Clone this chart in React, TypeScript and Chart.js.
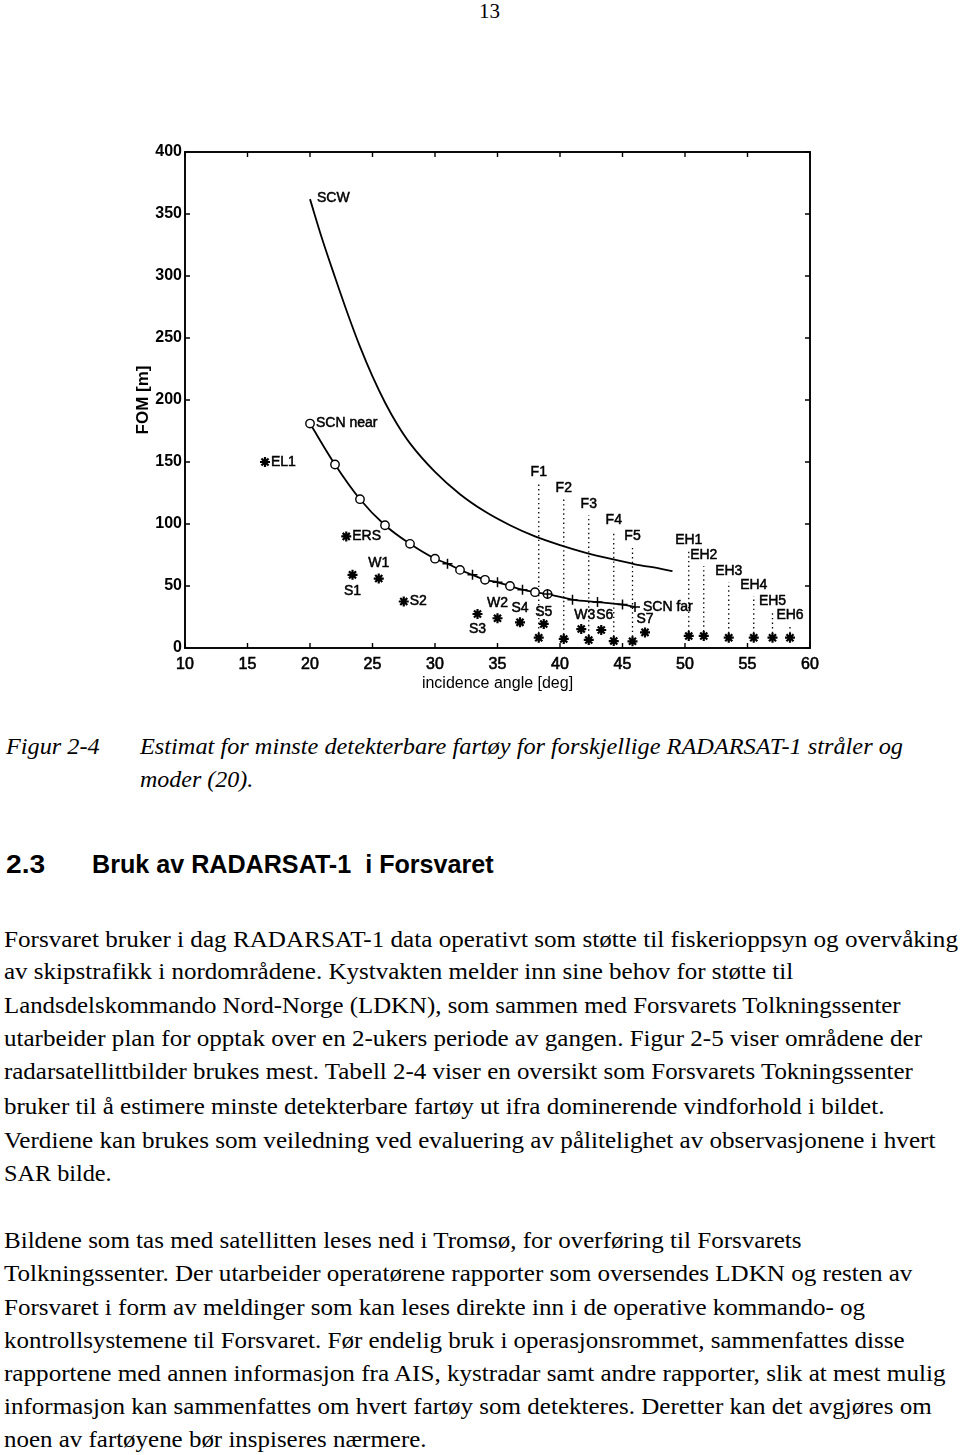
import React, { useEffect, useLayoutEffect, useRef } from "react";
import { Chart, registerables } from "chart.js";

Chart.register(...registerables);

// ---------------- data ----------------
const angleTicks = [10, 15, 20, 25, 30, 35, 40, 45, 50, 55, 60];
const fomTicks = [0, 50, 100, 150, 200, 250, 300, 350, 400];

const scwAngle = [20, 21, 22, 23, 24, 25, 26, 27, 28, 30, 32, 34, 36, 38, 40, 42, 44, 46, 48, 49];
const scwFom = [362, 329, 299, 270, 243, 219, 198, 180, 165, 142, 124, 110, 99, 90, 83, 77, 72, 67.5, 64, 62];

const scnCircleAngle = [20, 22, 24, 26, 28, 30, 32, 34, 36, 38, 39];
const scnCircleFom = [181, 148, 120, 99, 84, 72, 63, 55, 50, 45, 43.5];
const scnPlusAngle = [31, 33, 35, 37, 39, 41, 43, 45, 46];
const scnPlusFom = [68, 59, 53, 47, 43.5, 39, 37, 35, 33];

const beamNames = ["EL1", "ERS", "S1", "W1", "S2", "S3", "W2", "S4", "S5", "W3", "S6", "S7",
  "F1", "F2", "F3", "F4", "F5", "EH1", "EH2", "EH3", "EH4", "EH5", "EH6"];
const beamAngle = [16.4, 22.9, 23.4, 25.5, 27.5, 33.4, 35, 36.8, 38.7, 41.7, 43.3, 46.8,
  38.3, 40.3, 42.3, 44.3, 45.8, 50.3, 51.5, 53.5, 55.5, 57, 58.4];
const beamFom = [150, 90, 59, 56, 37.5, 27.4, 24, 20.7, 19.4, 15.3, 14.5, 12.6,
  8.3, 7.3, 6.5, 5.6, 5.4, 9.7, 9.7, 8.3, 8.3, 8.3, 8.3];

const dottedNames = ["F1", "F2", "F3", "F4", "F5", "EH1", "EH2", "EH3", "EH4", "EH5", "EH6"];
const dottedTop = [133, 120, 107, 94, 81, 78, 66, 53, 42, 29, 18];

const axisTitleX = "incidence angle [deg]";
const axisTitleY = "FOM [m]";

// ---------------- styles (label placement) ----------------
const starLabelPlacement: Record<string, [number, number, CanvasTextAlign]> = {
  EL1: [6, 0, "left"],
  ERS: [6, 0, "left"],
  S1: [0, 16, "center"],
  W1: [0, -15, "center"],
  S2: [6, 0, "left"],
  S3: [0, 15, "center"],
  W2: [0, -15, "center"],
  S4: [0, -14, "center"],
  S5: [0, -12, "center"],
  W3: [14, -14, "right"],
  S6: [-5, -15, "left"],
  S7: [0, -13, "center"],
};

const SANS = '"Liberation Sans", Arial, Helvetica, sans-serif';
const SERIF = '"Liberation Serif", "Times New Roman", Times, serif';

const pts = (xs: number[], ys: number[]) => xs.map((x, i) => ({ x, y: ys[i] }));

const framePlugin = {
  id: "frame",
  beforeDatasetsDraw(chart: any) {
    const { ctx, chartArea: a, scales } = chart;
    ctx.save();
    ctx.strokeStyle = "#000";
    ctx.lineWidth = 1.9;
    ctx.strokeRect(a.left, a.top, a.right - a.left, a.bottom - a.top);
    const tl = 5;
    ctx.lineWidth = 1.4;
    ctx.beginPath();
    for (const t of scales.x.ticks) {
      const px = scales.x.getPixelForValue(t.value);
      ctx.moveTo(px, a.bottom); ctx.lineTo(px, a.bottom - tl);
      ctx.moveTo(px, a.top); ctx.lineTo(px, a.top + tl);
    }
    for (const t of scales.y.ticks) {
      const py = scales.y.getPixelForValue(t.value);
      ctx.moveTo(a.left, py); ctx.lineTo(a.left + tl, py);
      ctx.moveTo(a.right, py); ctx.lineTo(a.right - tl, py);
    }
    ctx.stroke();
    ctx.restore();
  },
};

const labelPlugin = {
  id: "labels",
  afterDatasetsDraw(chart: any) {
    const { ctx, scales } = chart;
    const xs = scales.x, ys = scales.y;
    ctx.save();
    ctx.fillStyle = "#000";
    ctx.strokeStyle = "#000";
    ctx.lineWidth = 0.5;
    ctx.font = `14px ${SANS}`;
    ctx.textBaseline = "middle";
    const put = (t: string, x: number, y: number, dx: number, dy: number, align: CanvasTextAlign) => {
      ctx.textAlign = align;
      const px = xs.getPixelForValue(x) + dx;
      const py = ys.getPixelForValue(y) + dy;
      ctx.fillText(t, px, py);
      ctx.strokeText(t, px, py);
    };
    beamNames.forEach((n, i) => {
      const p = starLabelPlacement[n];
      if (p) put(n, beamAngle[i], beamFom[i], p[0], p[1], p[2]);
    });
    dottedNames.forEach((n, i) => {
      const bi = beamNames.indexOf(n);
      put(n, beamAngle[bi], dottedTop[i], 0, -11, "center");
    });
    put("SCW", scwAngle[0], scwFom[0], 7, -1, "left");
    put("SCN near", scnCircleAngle[0], scnCircleFom[0], 6, 0, "left");
    const last = scnPlusAngle.length - 1;
    put("SCN far", scnPlusAngle[last], scnPlusFom[last], 8, 0, "left");
    ctx.restore();
  },
};

function FomChart() {
  const ref = useRef<HTMLCanvasElement>(null);
  useEffect(() => {
    const canvas = ref.current!;
    // merged SCN curve (circle + plus sample points)
    const merged = new Map<number, number>();
    scnCircleAngle.forEach((x, i) => merged.set(x, scnCircleFom[i]));
    scnPlusAngle.forEach((x, i) => merged.set(x, scnPlusFom[i]));
    const scnAngle = Array.from(merged.keys()).sort((a, b) => a - b);
    const scnFom = scnAngle.map((x) => merged.get(x)!);

    const dotted = dottedNames.map((n, i) => {
      const bi = beamNames.indexOf(n);
      return {
        label: n + " line",
        data: [{ x: beamAngle[bi], y: beamFom[bi] }, { x: beamAngle[bi], y: dottedTop[i] }],
        showLine: true,
        borderColor: "#000",
        borderWidth: 1.3,
        borderDash: [1.4, 3.2],
        pointRadius: 0,
        order: 5,
      };
    });

    const chart = new Chart(canvas, {
      type: "scatter",
      data: {
        datasets: [
          {
            label: "SCN plus",
            data: pts(scnPlusAngle, scnPlusFom),
            showLine: false,
            pointStyle: "cross",
            pointRadius: 5,
            pointBorderWidth: 1.5,
            borderColor: "#000",
            backgroundColor: "#000",
            order: 0,
          },
          {
            label: "SCN circles",
            data: pts(scnCircleAngle, scnCircleFom),
            showLine: false,
            pointStyle: "circle",
            pointRadius: 4.2,
            pointBorderWidth: 1.4,
            borderColor: "#000",
            backgroundColor: "#fff",
            order: 1,
          },
          {
            label: "SCN",
            data: pts(scnAngle, scnFom),
            showLine: true,
            cubicInterpolationMode: "monotone",
            borderColor: "#000",
            borderWidth: 1.8,
            pointRadius: 0,
            order: 2,
          },
          {
            label: "SCW",
            data: pts(scwAngle, scwFom),
            showLine: true,
            cubicInterpolationMode: "monotone",
            borderColor: "#000",
            borderWidth: 1.8,
            pointRadius: 0,
            order: 2,
          },
          {
            label: "beams",
            data: pts(beamAngle, beamFom),
            showLine: false,
            pointStyle: "star",
            pointRadius: 5,
            pointBorderWidth: 2.2,
            borderColor: "#000",
            backgroundColor: "#000",
            order: 1,
          },
          ...dotted,
        ] as any,
      },
      options: {
        animation: false,
        responsive: false,
        maintainAspectRatio: false,
        devicePixelRatio: 1,
        layout: { padding: { left: 0, top: 32, right: 50, bottom: 0 } },
        plugins: { legend: { display: false }, tooltip: { enabled: false } },
        scales: {
          x: {
            type: "linear",
            min: 10,
            max: 60,
            afterBuildTicks: (s: any) => { s.ticks = angleTicks.map((v) => ({ value: v })); },
            afterFit: (s: any) => { s.height = 72; },
            ticks: {
              color: "#000",
              font: { family: SANS, size: 16 },
              padding: 7,
              textStrokeColor: "#000",
              textStrokeWidth: 0.6,
            },
            grid: { display: false, drawTicks: false },
            border: { display: false },
            title: {
              display: true,
              text: axisTitleX,
              color: "#000",
              font: { family: SANS, size: 16 },
              padding: { top: 0, bottom: 27 },
            },
          },
          y: {
            type: "linear",
            min: 0,
            max: 400,
            afterBuildTicks: (s: any) => { s.ticks = fomTicks.map((v) => ({ value: v })); },
            afterFit: (s: any) => { s.width = 85; },
            ticks: { color: "#000", font: { family: SANS, size: 16, weight: "bold" }, padding: 3 },
            grid: { display: false, drawTicks: false },
            border: { display: false },
            title: {
              display: true,
              text: axisTitleY,
              color: "#000",
              font: { family: SANS, size: 17, weight: "bold" },
              padding: { top: 33, bottom: 0 },
            },
          },
        },
      } as any,
      plugins: [framePlugin, labelPlugin],
    });
    return () => chart.destroy();
  }, []);
  return (
    <canvas
      ref={ref}
      width={760}
      height={600}
      style={{ position: "absolute", left: 100, top: 120, width: 760, height: 600 }}
    />
  );
}

// ---------------- page text ----------------
const bodyLines = [
  "Forsvaret bruker i dag RADARSAT-1 data operativt som støtte til fiskerioppsyn og overvåking",
  "av skipstrafikk i nordområdene. Kystvakten melder inn sine behov for støtte til",
  "Landsdelskommando Nord-Norge (LDKN), som sammen med Forsvarets Tolkningssenter",
  "utarbeider plan for opptak over en 2-ukers periode av gangen. Figur 2-5 viser områdene der",
  "radarsatellittbilder brukes mest. Tabell 2-4 viser en oversikt som Forsvarets Tokningssenter",
  "bruker til å estimere minste detekterbare fartøy ut ifra dominerende vindforhold i bildet.",
  "Verdiene kan brukes som veiledning ved evaluering av pålitelighet av observasjonene i hvert",
  "SAR bilde.",
  "Bildene som tas med satellitten leses ned i Tromsø, for overføring til Forsvarets",
  "Tolkningssenter. Der utarbeider operatørene rapporter som oversendes LDKN og resten av",
  "Forsvaret i form av meldinger som kan leses direkte inn i de operative kommando- og",
  "kontrollsystemene til Forsvaret. Før endelig bruk i operasjonsrommet, sammenfattes disse",
  "rapportene med annen informasjon fra AIS, kystradar samt andre rapporter, slik at mest mulig",
  "informasjon kan sammenfattes om hvert fartøy som detekteres. Deretter kan det avgjøres om",
  "noen av fartøyene bør inspiseres nærmere.",
];
const bodyRight = [958, 793, 901, 922, 913, 884, 935, 112, 802, 912, 865, 905, 945, 932, 427];
const bodyBaseline = [946.7, 979.5, 1012.7, 1046, 1079, 1114, 1148, 1181.5, 1248, 1281, 1315, 1348, 1381.5, 1414.5, 1447];

type FitProps = {
  text: string;
  left: number;
  right: number;
  baseline: number;
  size: number;
  family: string;
  italic?: boolean;
  bold?: boolean;
};

function FitLine({ text, left, right, baseline, size, family, italic, bold }: FitProps) {
  const ref = useRef<HTMLSpanElement>(null);
  useLayoutEffect(() => {
    const el = ref.current;
    if (!el) return;
    const w = el.offsetWidth;
    const target = right - left;
    if (w > 0) {
      let s = target / w;
      if (s < 0.8) s = 0.8;
      if (s > 1.2) s = 1.2;
      el.style.transform = `scaleX(${s})`;
    }
  }, [text, left, right, size]);
  const top = baseline - (size / 2 + 0.3375 * size);
  return (
    <span
      ref={ref}
      style={{
        position: "absolute",
        left,
        top,
        fontFamily: family,
        fontSize: size,
        lineHeight: `${size}px`,
        fontStyle: italic ? "italic" : "normal",
        fontWeight: bold ? "bold" : "normal",
        whiteSpace: "pre",
        transformOrigin: "0 50%",
        color: "#000",
        display: "inline-block",
      }}
    >
      {text}
    </span>
  );
}

export default function App() {
  return (
    <div
      style={{
        position: "absolute",
        left: 0,
        top: 0,
        width: 960,
        height: 1455,
        background: "#fff",
        overflow: "hidden",
      }}
    >
      <FitLine text="13" left={479} right={500} baseline={18} size={20} family={SERIF} />
      <FomChart />
      <FitLine text="Figur 2-4" left={6} right={100} baseline={754} size={24} family={SERIF} italic />
      <FitLine
        text="Estimat for minste detekterbare fartøy for forskjellige RADARSAT-1 stråler og"
        left={140}
        right={903}
        baseline={754}
        size={24}
        family={SERIF}
        italic
      />
      <FitLine text="moder (20)." left={140} right={253} baseline={787} size={24} family={SERIF} italic />
      <FitLine text="2.3" left={6} right={45} baseline={873} size={26} family={SANS} bold />
      <FitLine
        text="Bruk av RADARSAT-1  i Forsvaret"
        left={92}
        right={494}
        baseline={873}
        size={26}
        family={SANS}
        bold
      />
      {bodyLines.map((t, i) => (
        <FitLine
          key={i}
          text={t}
          left={4}
          right={bodyRight[i]}
          baseline={bodyBaseline[i]}
          size={24}
          family={SERIF}
        />
      ))}
    </div>
  );
}
